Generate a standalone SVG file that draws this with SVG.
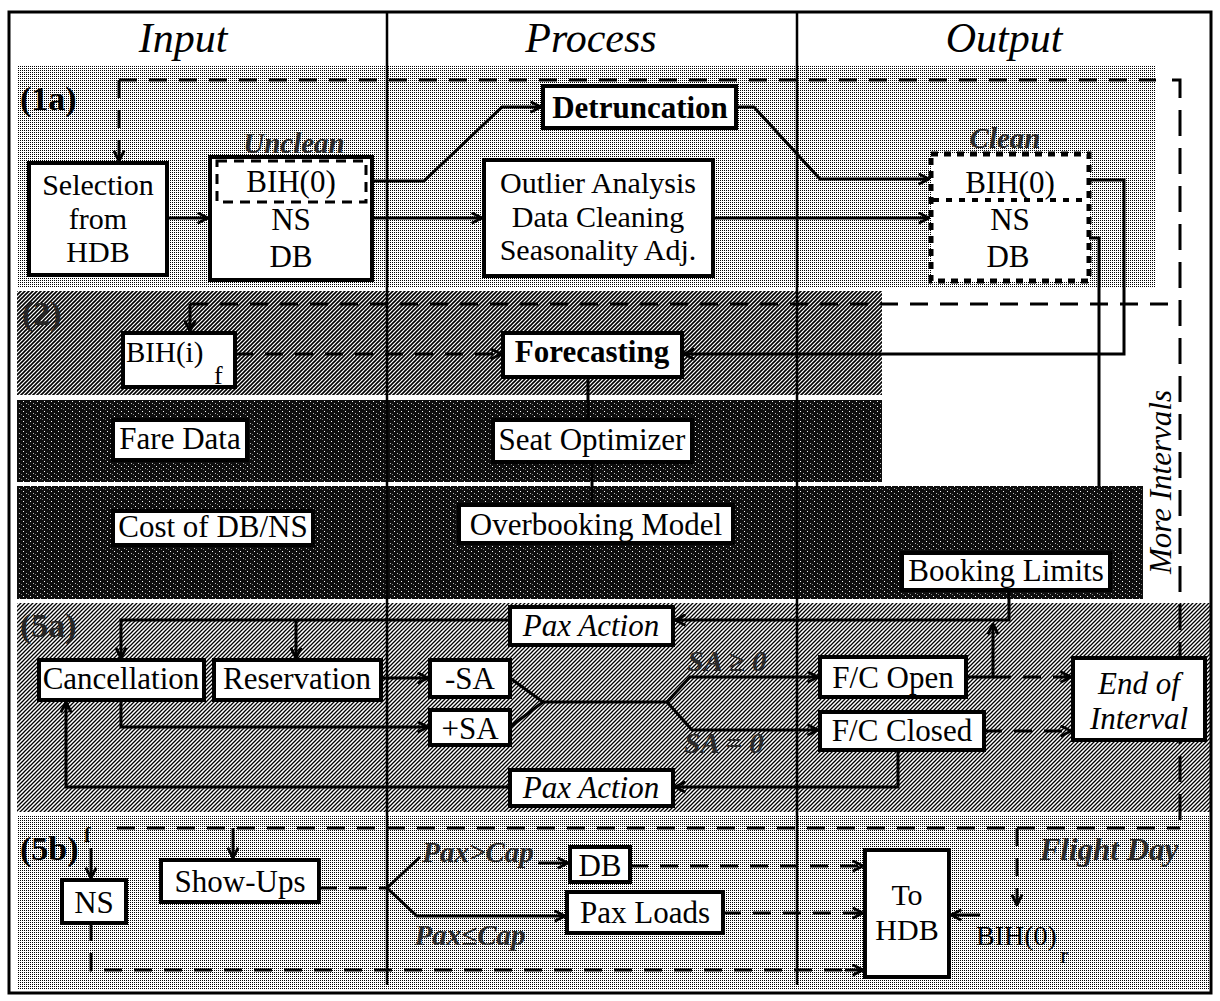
<svg xmlns="http://www.w3.org/2000/svg" width="1220" height="1001" viewBox="0 0 1220 1001">
<defs>
  <pattern id="dots" width="2" height="2" patternUnits="userSpaceOnUse">
    <rect width="2" height="2" fill="#fff"/><rect width="1" height="1" fill="#000"/>
  </pattern>
  <pattern id="hatch" width="4" height="4" patternUnits="userSpaceOnUse">
    <rect width="4" height="4" fill="#fff"/>
    <path d="M-1,1 L1,-1 M0,4 L4,0 M3,5 L5,3" stroke="#000" stroke-width="1.3"/>
  </pattern>
  <pattern id="hatchD" width="4" height="4" patternUnits="userSpaceOnUse">
    <rect width="4" height="4" fill="#fff"/>
    <path d="M-1,1 L1,-1 M0,4 L4,0 M3,5 L5,3" stroke="#000" stroke-width="1.6"/>
  </pattern>
  <pattern id="speck" width="7" height="5" patternUnits="userSpaceOnUse">
    <rect width="7" height="5" fill="#0d0d0d"/>
    <rect x="2" y="1" width="1" height="1" fill="#fff"/>
    <rect x="5" y="3" width="1" height="1" fill="#bbb"/>
    <rect x="0" y="4" width="1" height="1" fill="#777"/>
  </pattern>
  <marker id="ah" viewBox="0 0 10 10" refX="9" refY="5" markerWidth="13" markerHeight="13" markerUnits="userSpaceOnUse" orient="auto">
    <path d="M1,1 L9,5 L1,9" fill="none" stroke="#000" stroke-width="2.2" stroke-dasharray="none"/>
  </marker>
</defs>
<style>
  text { font-family: "Liberation Serif", "Times New Roman", serif; fill: #000; }
  .c { text-anchor: middle; }
  .n { font-size: 31px; }
  .m { font-size: 30px; }
  .h { font-size: 42px; font-style: italic; }
  .i { font-style: italic; }
  .b { font-weight: bold; }
  .lab { font-size: 34px; font-weight: bold; }
  .sh { font-style: italic; font-weight: bold; fill: #2a2a2a; font-size: 29px; }
  .box { fill: #fff; stroke: #000; stroke-width: 4; }
  .ln { fill: none; stroke: #000; stroke-width: 3; }
  .dash { stroke-dasharray: 18 12; }
  .ldash { stroke-dasharray: 26 12; }
  .arr { marker-end: url(#ah); }
</style>

<g id="background">
  <rect x="0" y="0" width="1220" height="1001" fill="#fff"/>
  <rect x="17" y="65" width="1139" height="222" fill="url(#dots)"/>
  <rect x="17" y="291" width="865" height="104" fill="url(#hatchD)"/>
  <rect x="17" y="400" width="865" height="82" fill="url(#speck)"/>
  <rect x="17" y="486" width="1126" height="113" fill="url(#speck)"/>
  <rect x="17" y="603" width="1193" height="209" fill="url(#hatch)"/>
  <rect x="17" y="816" width="1193" height="174" fill="url(#dots)"/>
  <rect x="9" y="12" width="1202" height="981" fill="none" stroke="#000" stroke-width="3"/>
  <line x1="387" y1="12" x2="387" y2="985" stroke="#000" stroke-width="2.5"/>
  <line x1="797" y1="12" x2="797" y2="985" stroke="#000" stroke-width="2.5"/>
  <text class="h c" x="183" y="52">Input</text>
  <text class="h c" x="591" y="52">Process</text>
  <text class="h c" x="1004" y="52">Output</text>
  <text class="lab" x="20" y="110">(1a)</text>
  <text class="lab" x="22" y="325" style="fill:#262626">(2)</text>
  <text class="lab" x="20" y="637" style="fill:#262626">(5a)</text>
  <text class="lab" x="20" y="860">(5b)</text>
  <text class="b" x="84" y="842" style="font-size:20px">f</text>
</g>

<g id="connectors">
  <path class="ln dash" d="M119,80 H1156"/>
  <path class="ln ldash" d="M1172,80 H1180 V828"/>
  <path class="ln dash arr" d="M119,80 V161"/>
  <path class="ln arr" d="M167,218 H208"/>
  <path class="ln arr" d="M372,218 H482"/>
  <path class="ln arr" d="M372,181 H424 L502,107 H541"/>
  <path class="ln arr" d="M736,107 H754 L820,179 H929"/>
  <path class="ln arr" d="M713,218 H929"/>
  <path class="ln arr" d="M1089,180 H1124 V354 H684"/>
  <path class="ln" d="M1089,238 H1099 V486"/>
  <path class="ln dash" d="M190,304 H1180"/>
  <path class="ln arr" d="M190,304 V331"/>
  <path class="ln dash arr" d="M235,354 H501"/>
  <path class="ln" d="M588,377 V420"/>
  <path class="ln" d="M592,462 V505"/>
  <path class="ln arr" d="M1009,590 V620 H675"/>
  <path class="ln arr" d="M510,620 H121 V658"/>
  <path class="ln arr" d="M296,620 V658"/>
  <path class="ln arr" d="M381,678 H428"/>
  <path class="ln arr" d="M121,700 V727 H428"/>
  <path class="ln" d="M510,678 L543,702 L510,727 M543,702 H667"/>
  <path class="ln arr" d="M667,702 L690,677 H818"/>
  <path class="ln arr" d="M667,702 L692,730 H818"/>
  <path class="ln arr" d="M966,677 H993 V624"/>
  <path class="ln dash arr" d="M993,677 H1071"/>
  <path class="ln dash arr" d="M984,731 H1071"/>
  <path class="ln arr" d="M898,750 V787 H675"/>
  <path class="ln arr" d="M510,787 H66 V702"/>
  <path class="ln dash" d="M117,828 H1180"/>
  <path class="ln arr" d="M91,848 V878"/>
  <path class="ln arr" d="M233,828 V858"/>
  <path class="ln dash" d="M91,923 V970 H850"/>
  <path class="ln arr" d="M845,970 H863"/>
  <path class="ln dash" d="M319,888 H387"/>
  <path class="ln" d="M387,888 L420,857"/>
  <path class="ln arr" d="M538,863 H568"/>
  <path class="ln arr" d="M387,888 L417,916 H565"/>
  <path class="ln dash arr" d="M630,866 H863"/>
  <path class="ln dash arr" d="M723,913 H863"/>
  <path class="ln arr" d="M980,915 H951"/>
  <path class="ln dash arr" d="M1017,828 V905"/>
  <text class="sh c" x="1005" y="148">Clean</text>
  <text class="sh c" x="294" y="153">Unclean</text>
  <text class="sh c" x="727" y="671">SA ≥ 0</text>
  <text class="sh c" x="724" y="753">SA = 0</text>
  <text class="sh c" x="478" y="862">Pax&gt;Cap</text>
  <text class="sh c" x="470" y="945">Pax≤Cap</text>
  <text class="sh c" x="1109" y="860" style="font-size:31px">Flight Day</text>
  <text class="i c" x="0" y="0" style="font-size:31px" transform="translate(1171,482) rotate(-90)">More Intervals</text>
</g>

<g id="node-selection">
  <rect class="box" x="29" y="163" width="138" height="112"/>
  <text class="m c" x="98" y="195">Selection</text>
  <text class="m c" x="98" y="228.5">from</text>
  <text class="m c" x="98" y="262">HDB</text>
</g>
<g id="node-unclean">
  <rect class="box" x="210" y="157" width="162" height="123" stroke-width="5"/>
  <rect x="217" y="161" width="149" height="41" fill="none" stroke="#000" stroke-width="3" stroke-dasharray="10 7"/>
  <text class="n c" x="291" y="192">BIH(0)</text>
  <text class="n c" x="291" y="230">NS</text>
  <text class="n c" x="291" y="267">DB</text>
</g>
<g id="node-detruncation">
  <rect class="box" x="543" y="86" width="193" height="42"/>
  <text class="n c b" x="640" y="118">Detruncation</text>
</g>
<g id="node-outlier">
  <rect class="box" x="484" y="160" width="229" height="116"/>
  <text class="m c" x="598" y="193">Outlier Analysis</text>
  <text class="m c" x="598" y="226.5">Data Cleaning</text>
  <text class="m c" x="598" y="260">Seasonality Adj.</text>
</g>
<g id="node-clean">
  <rect x="931" y="154" width="158" height="127" fill="#fff" stroke="#000" stroke-width="5" stroke-dasharray="7 6"/>
  <line x1="933" y1="200" x2="1087" y2="200" stroke="#000" stroke-width="4" stroke-dasharray="6 7"/>
  <text class="n c" x="1010" y="193">BIH(0)</text>
  <text class="n c" x="1010" y="230">NS</text>
  <text class="n c" x="1008" y="267">DB</text>
</g>
<g id="node-bihi">
  <rect class="box" x="123" y="333" width="112" height="54"/>
  <text x="126" y="362" style="font-size:29px">BIH(i)</text>
  <text x="214" y="384" style="font-size:26px">f</text>
</g>
<g id="node-forecasting">
  <rect class="box" x="503" y="333" width="179" height="44"/>
  <text class="n c b" x="592" y="362">Forecasting</text>
</g>
<g id="node-fare">
  <rect class="box" x="113" y="420" width="134" height="40" stroke="none"/>
  <text class="n c" x="180" y="449">Fare Data</text>
</g>
<g id="node-seatopt">
  <rect class="box" x="493" y="420" width="199" height="42" stroke="none"/>
  <text class="n c" x="592" y="450">Seat Optimizer</text>
</g>
<g id="node-cost">
  <rect class="box" x="113" y="511" width="200" height="34" stroke="none"/>
  <text class="n c" x="213" y="537">Cost of DB/NS</text>
</g>
<g id="node-overbooking">
  <rect class="box" x="459" y="505" width="274" height="38" stroke="none"/>
  <text class="n c" x="596" y="535">Overbooking Model</text>
</g>
<g id="node-booking">
  <rect class="box" x="902" y="553" width="208" height="37" stroke="none"/>
  <text class="n c" x="1006" y="581">Booking Limits</text>
</g>
<g id="node-paxaction1">
  <rect class="box" x="510" y="607" width="163" height="38"/>
  <text class="n c i" x="591" y="636">Pax Action</text>
</g>
<g id="node-cancellation">
  <rect class="box" x="39" y="660" width="165" height="40"/>
  <text class="n c" x="121" y="689">Cancellation</text>
</g>
<g id="node-reservation">
  <rect class="box" x="214" y="660" width="167" height="40"/>
  <text class="n c" x="297" y="689">Reservation</text>
</g>
<g id="node-minussa">
  <rect class="box" x="430" y="660" width="80" height="37"/>
  <text class="n c" x="470" y="689">-SA</text>
</g>
<g id="node-plussa">
  <rect class="box" x="430" y="710" width="80" height="35"/>
  <text class="n c" x="470" y="739">+SA</text>
</g>
<g id="node-fcopen">
  <rect class="box" x="820" y="657" width="146" height="40"/>
  <text class="n c" x="893" y="688">F/C Open</text>
</g>
<g id="node-fcclosed">
  <rect class="box" x="820" y="712" width="164" height="38"/>
  <text class="n c" x="902" y="741">F/C Closed</text>
</g>
<g id="node-endinterval">
  <rect class="box" x="1073" y="658" width="132" height="82"/>
  <text class="n c i" x="1139" y="694">End of</text>
  <text class="n c i" x="1139" y="729">Interval</text>
</g>
<g id="node-paxaction2">
  <rect class="box" x="510" y="770" width="163" height="36"/>
  <text class="n c i" x="591" y="798">Pax Action</text>
</g>
<g id="node-ns">
  <rect class="box" x="62" y="880" width="64" height="43"/>
  <text class="n c" x="94" y="913">NS</text>
</g>
<g id="node-showups">
  <rect class="box" x="161" y="860" width="158" height="42"/>
  <text class="n c" x="240" y="892">Show-Ups</text>
</g>
<g id="node-db">
  <rect class="box" x="570" y="847" width="60" height="35"/>
  <text class="n c" x="600" y="876">DB</text>
</g>
<g id="node-paxloads">
  <rect class="box" x="567" y="892" width="156" height="41"/>
  <text class="n c" x="645" y="923">Pax Loads</text>
</g>
<g id="node-tohdb">
  <rect class="box" x="865" y="850" width="84" height="127"/>
  <text class="m c" x="907" y="905">To</text>
  <text class="m c" x="907" y="940">HDB</text>
</g>
<g id="node-bih0r">
  <text x="976" y="945" style="font-size:28px">BIH(0)</text>
  <text x="1060" y="963" style="font-size:24px">r</text>
</g>
</svg>
